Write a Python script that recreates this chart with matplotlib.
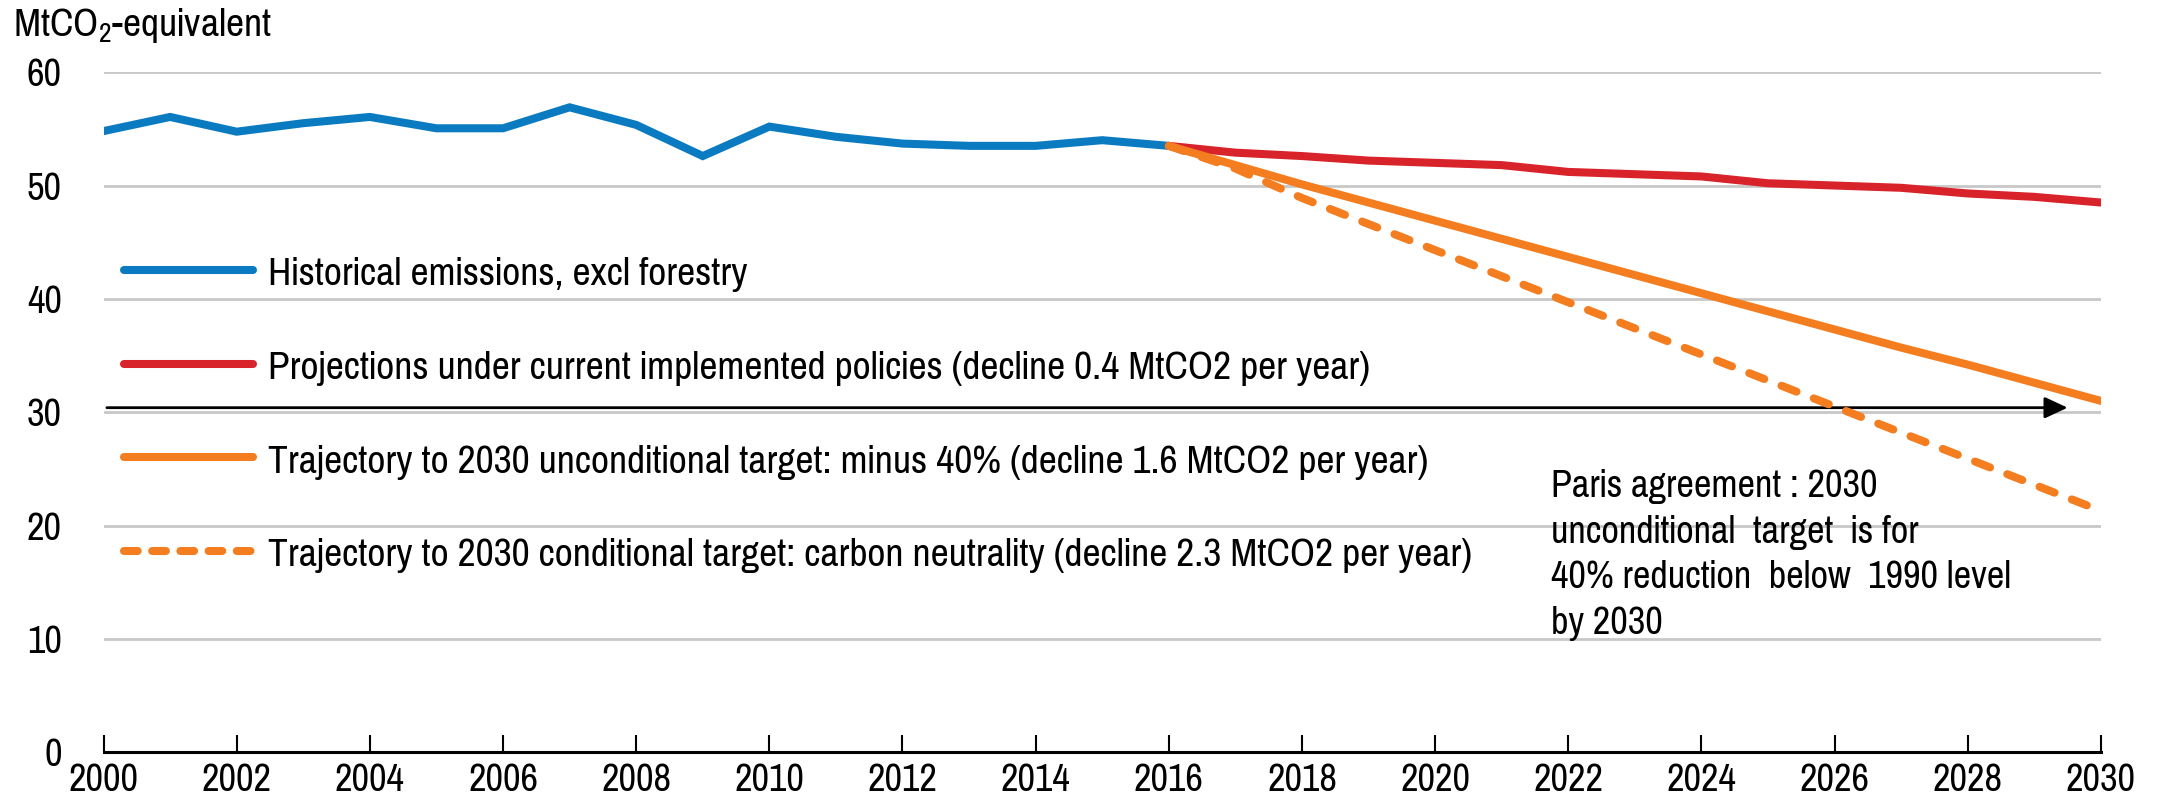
import matplotlib.pyplot as plt
from matplotlib.lines import Line2D

# data ####################################################
hist_years = list(range(2000, 2017))
hist_vals = [54.8, 56.05, 54.75, 55.5, 56.05, 55.05, 55.05, 56.9, 55.35,
             52.6, 55.2, 54.3, 53.7, 53.5, 53.5, 54.0, 53.5]

proj_years = list(range(2016, 2031))
proj_vals = [53.5, 52.9, 52.6, 52.2, 52.0, 51.8, 51.2, 51.0, 50.8,
             50.2, 50.0, 49.8, 49.3, 49.0, 48.5]
uncond_vals = [53.5, 51.8, 50.1, 48.5, 46.9, 45.3, 43.7, 42.1, 40.5,
               38.9, 37.3, 35.7, 34.2, 32.6, 31.0]
cond_vals = [53.5, 51.5, 48.9, 46.6, 44.3, 42.0, 39.7, 37.4, 35.1,
             32.8, 30.5, 28.2, 25.9, 23.6, 21.3]

labels = ["Historical emissions, excl forestry",
          "Projections under current implemented policies (decline 0.4 MtCO2 per year)",
          "Trajectory to 2030 unconditional target: minus 40% (decline 1.6 MtCO2 per year)",
          "Trajectory to 2030 conditional target: carbon neutrality (decline 2.3 MtCO2 per year)"]

note = ("Paris agreement : 2030\nunconditional  target  is for\n"
        "40% reduction  below  1990 level\nby 2030")
arrow_level = 30.4

xticks = list(range(2000, 2031, 2))
yticks = [0, 10, 20, 30, 40, 50, 60]

BLUE = '#0b7bc1'
RED = '#d9232a'
ORANGE = '#f47d20'

# style ###################################################
FONT = 'Pragati Narrow'
plt.rcParams['font.family'] = [FONT, 'Liberation Sans', 'DejaVu Sans']
plt.rcParams['mathtext.fontset'] = 'custom'
plt.rcParams['mathtext.rm'] = FONT
plt.rcParams['mathtext.it'] = FONT

fig = plt.figure(figsize=(21.57, 8.02), dpi=100)
ax = fig.add_axes([0.048, 0.062, 0.926, 0.848])

lw = 5.8
dash = (2.0, 2.3)
ax.plot(hist_years, hist_vals, color=BLUE, lw=lw, solid_capstyle='round',
        solid_joinstyle='miter', zorder=3)
ax.plot(proj_years, proj_vals, color=RED, lw=lw, solid_capstyle='round', zorder=3)
ax.plot(proj_years, uncond_vals, color=ORANGE, lw=lw, solid_capstyle='round', zorder=4)
ax.plot(proj_years, cond_vals, color=ORANGE, lw=lw, dashes=dash,
        dash_capstyle='round', zorder=4)

ax.annotate('', xy=(2029.5, arrow_level), xytext=(2000.05, arrow_level),
            arrowprops=dict(arrowstyle='-|>,head_length=1.4,head_width=0.65',
                            color='black', lw=2, shrinkA=0, shrinkB=0),
            zorder=2)

ax.text(2021.74, 25.0, note, fontsize=30, va='top', ha='left', linespacing=1.38)

# legend
handles = [Line2D([], [], color=BLUE, lw=lw, solid_capstyle='round'),
           Line2D([], [], color=RED, lw=lw, solid_capstyle='round'),
           Line2D([], [], color=ORANGE, lw=lw, solid_capstyle='round'),
           Line2D([], [], color=ORANGE, lw=lw, dashes=(1.7, 1.8), dash_capstyle='round')]
ax.legend(handles, labels, loc='upper left', bbox_to_anchor=(-0.005, 0.775),
          frameon=False, fontsize=31, handlelength=3.0, handletextpad=0.35,
          labelspacing=1.31, borderaxespad=0.3)

# axes
ax.set_xlim(2000, 2030)
ax.set_ylim(0, 60)
ax.set_xticks(xticks)
ax.set_yticks(yticks)
ax.grid(axis='y', color='#c8c8c8', lw=2)
ax.set_axisbelow(True)
for s in ['top', 'right', 'left']:
    ax.spines[s].set_visible(False)
ax.spines['bottom'].set_linewidth(2.2)
ax.tick_params(axis='x', direction='in', length=12, width=1.5, labelsize=30, pad=8)
ax.tick_params(axis='y', length=0, labelsize=30, pad=30)

fig.text(0.006, 0.968, 'MtCO$_2$-equivalent', fontsize=31, va='center', ha='left')

fig.savefig('out.png', dpi=100)
